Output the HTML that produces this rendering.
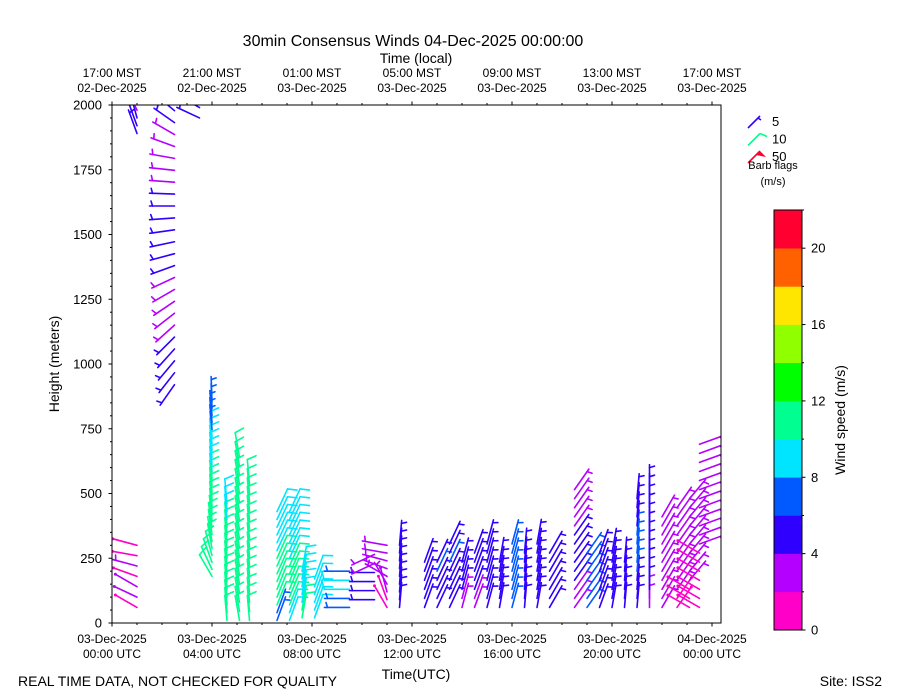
<!DOCTYPE html>
<html><head><meta charset="utf-8">
<style>
body{margin:0;background:#fff;}
svg{display:block;font-family:"Liberation Sans","DejaVu Sans",sans-serif;}
</style></head>
<body>
<svg id="chart" width="900" height="700" viewBox="0 0 900 700">
<defs><clipPath id="plotclip"><rect x="112" y="105" width="609" height="518"/></clipPath></defs>
<rect x="0" y="0" width="900" height="700" fill="#fff"/>
<text x="413" y="46" font-size="16" text-anchor="middle">30min Consensus Winds 04-Dec-2025 00:00:00</text>
<text x="416" y="63" font-size="14" text-anchor="middle">Time (local)</text>
<text x="416" y="679" font-size="14" text-anchor="middle">Time(UTC)</text>
<text transform="translate(59,364) rotate(-90)" font-size="14" text-anchor="middle">Height (meters)</text>
<text x="18" y="686" font-size="14">REAL TIME DATA, NOT CHECKED FOR QUALITY</text>
<text x="882" y="686" font-size="14" text-anchor="end">Site: ISS2</text>
<g id="barbs" clip-path="url(#plotclip)"></g>
<g id="axes"></g>
<g id="legend"></g>
<g id="cbar"></g>
</svg>
<script>
// ---- data ----
const bottomTickTimes = [0, 4, 8, 12, 16, 20, 24];
const bottomTickLabels1 = ["03-Dec-2025","03-Dec-2025","03-Dec-2025","03-Dec-2025","03-Dec-2025","03-Dec-2025","04-Dec-2025"];
const bottomTickLabels2 = ["00:00 UTC","04:00 UTC","08:00 UTC","12:00 UTC","16:00 UTC","20:00 UTC","00:00 UTC"];
const topTickLabels1 = ["17:00 MST","21:00 MST","01:00 MST","05:00 MST","09:00 MST","13:00 MST","17:00 MST"];
const topTickLabels2 = ["02-Dec-2025","02-Dec-2025","03-Dec-2025","03-Dec-2025","03-Dec-2025","03-Dec-2025","03-Dec-2025"];
const heightTicks = [0, 250, 500, 750, 1000, 1250, 1500, 1750, 2000];
const speedBins = ["#ff00c8","#b400ff","#3000ff","#005aff","#00e5ff","#00ff90","#00ff00","#90ff00","#ffe600","#ff6000","#ff0030"];
const cbarTicks = [0, 4, 8, 12, 16, 20];
// profiles: time (h since 03-Dec 00 UTC), first gate height, gate spacing, speeds (m/s), directions (deg)
const profTimes = [1.0, 1.0, 2.5, 3.5, 4.0, 4.6, 5.1, 5.5, 6.6, 7.1, 7.6, 8.1, 9.5, 10.5, 11.0, 11.5,
  12.5, 13.0, 13.5, 14.0, 14.5, 15.0, 15.5, 16.0, 16.5, 17.0, 17.5, 18.5, 19.0, 19.5, 20.0, 20.5, 21.0, 21.5, 22.0, 22.6, 23.1, 23.5];
const profH0 = [60, 1890, 920, 1950, 180, 10, 10, 10, 10, 10, 20, 20, 60, 90, 60, 60,
  60, 60, 60, 60, 60, 60, 60, 60, 60, 60, 60, 60, 60, 60, 60, 60, 60, 60, 60, 60, 60, 60];
const profDh = [40, 30, 46, 40, 27, 30, 35, 35, 30, 30, 30, 30, 35, 35, 30, 30,
  35, 35, 35, 35, 35, 35, 35, 35, 35, 35, 35, 35, 35, 35, 35, 35, 35, 35, 35, 35, 35, 35];
const profSpeeds = [
  [1.5,2,2,1.5,2.5,1.5,1.5],
  [5,5,5,3],
  [5,5,5,5,5,3.5,3.5,3.5,3,3,5,5,5,5,5,5,5,3.5,3.5,3.5,3.5,3,5,5],
  [5,5],
  [10,10,10.5,10.5,11,11,11,10.5,10.5,10.5,10.5,10.5,10.5,10,10,9.5,9,9,9,9,8.5,7,7,7,6.5,6.5],
  [10.5,10.5,10.5,11,11,10.5,10.5,10.5,10.5,10.5,10.5,10.5,10.5,9.5,9.5,9.5],
  [11,11,11,11,11,11,11,11,11,11,11,11,11,11,11,11,11.5,11.5,11],
  [10.5,10.5,10.5,10.5,10.5,10.5,10.5,10.5,10.5,10.5,10.5,11,11,11,10.5,10.5],
  [6,6,10.5,10.5,10.5,10.5,10.5,10.5,10.5,9,9,9,9,9,9],
  [9,9,10.5,10.5,10.5,10.5,10.5,10.5,9,9,9,9,9,9,9],
  [10.5,10.5,9,9,9,9,9],
  [9,9,9,9,9,9],
  [7,7,8,8,7],
  [5,5,5,5,3.5,3.5],
  [1.5,1.5,2,3,3,3.5,3.5,3,3],
  [5,5,5,5,5,5,5,5,5],
  [5,5,5,5,5,5],
  [5,5,5,5,7,5],
  [5,5,5,5,5,7,5,5],
  [3,3,5,5,5,5],
  [3.5,3.5,5,5,5,5,5],
  [5,5,5,5,5,5,5,5],
  [5,5,5,5,5,5],
  [7,7,7,7,7,7,7,7],
  [5,5,5,5,5,5,5],
  [5,5,5,5,5,5,5,5],
  [5,5,5,5,5,5,5],
  [3.5,3.5,3.5,5,5,5,5,5,5,3.5,3.5,3.5,3.5,3.5],
  [7,7,7,7,7,7,7],
  [5,5,5,5,5,5,5],
  [5,5,5,5,5,5,5],
  [5,5,5,5,5,5],
  [5,5,5,5,7,7,7,7,7,5,5,5,5],
  [3.5,3.5,5,5,5,5,5,5,5,5,5,5,5,5],
  [3.5,3.5,3.5,3.5,3.5,3.5,3.5,3.5,3.5,3.5,3.5],
  [1.5,1.5,3.5,3.5,3.5,3.5,3.5,3.5,3.5,3.5,3.5,3.5],
  [1.5,1.5,1.5,3,3,3,3,3,3,3,3,3,3],
  [1.5,1.5,1.5,1.5,1.5,1.5,1.5,3,3,3,3,3,3,3,3,3,3,3,3]
];
const profDirs = [
  [300,295,300,290,285,280,285],
  [340,340,345,335],
  [215,218,220,222,225,228,232,236,240,245,250,255,258,262,266,270,272,274,276,280,290,300,305,310],
  [295,300],
  [330,335,340,345,350,350,352,352,354,355,355,355,355,355,355,355,355,355,355,355,355,355,355,355,358,358],
  [355,355,355,355,355,355,355,355,355,355,355,355,355,355,355,355],
  [350,350,350,350,350,350,350,350,350,350,350,350,350,350,350,350,350,350,350],
  [355,355,355,355,355,355,355,355,355,355,355,355,355,355,355,355],
  [20,20,22,22,22,22,24,24,24,25,25,25,25,25,25],
  [20,20,22,22,22,22,24,24,24,25,25,25,25,25,25],
  [10,10,10,10,10,10,10],
  [20,20,20,20,20,20],
  [270,270,270,270,270],
  [270,270,270,270,245,245],
  [330,340,345,330,300,290,285,280,280],
  [5,5,5,5,5,5,5,5,5],
  [20,20,20,20,20,20],
  [25,25,25,25,25,25],
  [25,25,25,25,25,25,25,25],
  [15,15,15,15,15,15],
  [20,20,20,20,20,20,20],
  [15,15,15,15,15,15,15,15],
  [10,10,10,10,10,10],
  [15,15,15,15,15,15,15,15],
  [5,5,5,5,5,5,5],
  [10,10,10,10,10,10,10,10],
  [30,30,30,30,30,30,30],
  [35,35,35,35,35,35,35,35,35,35,35,35,35,35],
  [35,35,35,35,35,35,35],
  [20,20,20,20,20,20,20],
  [10,10,10,10,10,10,10],
  [5,5,5,5,5,5],
  [5,5,5,5,5,5,5,5,5,5,5,5,5],
  [0,0,0,0,0,0,0,0,0,0,0,0,0,0],
  [30,30,30,30,30,30,30,30,30,30,30],
  [35,35,35,35,35,35,35,35,35,35,35,35],
  [300,300,300,40,40,40,40,40,40,40,40,40,40],
  [300,300,300,300,300,300,300,70,70,70,70,70,70,70,70,70,70,70,70]
];

// ---- scales ----
const X0 = 112, X1 = 721, Y0 = 623, Y1 = 105;
function xS(t){ return X0 + t * 25; }
function yS(h){ return Y0 - h * (Y0 - Y1) / 2000; }
function colorFor(s){ return speedBins[Math.min(speedBins.length - 1, Math.floor(s / 2))]; }
const NS = "http://www.w3.org/2000/svg";
function mk(tag, attrs, parent){ const e = document.createElementNS(NS, tag); for (const k in attrs) e.setAttribute(k, attrs[k]); parent.appendChild(e); return e; }

// ---- barbs ----
const barbG = document.getElementById('barbs');
function drawBarb(px, py, s, dir, parent){
  const L = 25, a = dir * Math.PI / 180;
  const ux = Math.sin(a), uy = -Math.cos(a);
  const pxv = -uy, pyv = ux;
  const col = colorFor(s);
  const g = mk('g', {stroke: col, 'stroke-width': 1.6, fill: 'none', 'stroke-linecap': 'round'}, parent);
  
  
  const tx = px + ux * L, ty = py + uy * L;
  mk('line', {x1: px, y1: py, x2: tx, y2: ty}, g);
  const v = Math.round(s / 5) * 5;
  let full = Math.floor(v / 10), half = (v % 10) === 5 ? 1 : 0;
  let off = 0;
  for (let i = 0; i < full; i++){
    const qx = tx - ux * off, qy = ty - uy * off;
    mk('line', {x1: qx, y1: qy, x2: qx + pxv * 9 + ux * 3, y2: qy + pyv * 9 + uy * 3}, g);
    off += 3.5;
  }
  if (half){
    if (full === 0) off = 3;
    const qx = tx - ux * off, qy = ty - uy * off;
    mk('line', {x1: qx, y1: qy, x2: qx + pxv * 5 + ux * 1.5, y2: qy + pyv * 5 + uy * 1.5}, g);
  }
  if (v === 0){
    mk('circle', {cx: tx, cy: ty, r: 1.5, fill: col, stroke: 'none'}, g);
  }
}
for (let p = 0; p < profTimes.length; p++){
  const sp = profSpeeds[p], dr = profDirs[p];
  for (let i = 0; i < sp.length; i++){
    const h = profH0[p] + i * profDh[p];
    drawBarb(xS(profTimes[p]), yS(h), sp[i], dr[i], barbG);
  }
}

// ---- axes ----
const ax = document.getElementById('axes');
const frame = mk('rect', {x: X0, y: Y1, width: X1 - X0, height: Y0 - Y1, fill: 'none', stroke: '#000', 'stroke-width': 1}, ax);


for (let h = 0; h <= 24; h++){
  const x = xS(h);
  if (x > X1) break;
  const major = h % 4 === 0;
  const len = major ? 3.5 : 2;
  mk('line', {x1: x, y1: Y0, x2: x, y2: Y0 + len, stroke: '#000', 'stroke-width': 1}, ax);
  mk('line', {x1: x, y1: Y1, x2: x, y2: Y1 - len, stroke: '#000', 'stroke-width': 1}, ax);
}
for (let i = 0; i < bottomTickTimes.length; i++){
  const x = xS(bottomTickTimes[i]);
  let t = mk('text', {x: x, y: 643, 'font-size': 12, 'text-anchor': 'middle'}, ax);
  t.textContent = bottomTickLabels1[i];
  
  
  t = mk('text', {x: x, y: 658, 'font-size': 12, 'text-anchor': 'middle'}, ax);
  t.textContent = bottomTickLabels2[i];
  
  
  t = mk('text', {x: x, y: 77, 'font-size': 12, 'text-anchor': 'middle'}, ax);
  t.textContent = topTickLabels1[i];
  
  
  t = mk('text', {x: x, y: 92, 'font-size': 12, 'text-anchor': 'middle'}, ax);
  t.textContent = topTickLabels2[i];
  
  
}
for (let h = 0; h <= 2000; h += 50){
  const y = yS(h);
  const major = h % 250 === 0;
  mk('line', {x1: X0, y1: y, x2: X0 - (major ? 3.5 : 2), y2: y, stroke: '#000', 'stroke-width': 1}, ax);
}
for (const h of heightTicks){
  const t = mk('text', {x: 102, y: yS(h) + 4.5, 'font-size': 13, 'text-anchor': 'end'}, ax);
  t.textContent = String(h);
  
  
}

// ---- legend ----
const lg = document.getElementById('legend');
const legendVals = ["5", "10", "50"];
const legendCols = ["#3000ff", "#00ff90", "#ff0030"];
for (let i = 0; i < 3; i++){
  const y = 121 + i * 17.5;
  const g = mk('g', {stroke: legendCols[i], 'stroke-width': 1.6, fill: legendCols[i]}, lg);
  
  
  mk('line', {x1: 748, y1: y + 7, x2: 760, y2: y - 5}, g);
  if (i === 0) mk('line', {x1: 758, y1: y - 3, x2: 761, y2: y - 1}, g);
  if (i === 1) mk('line', {x1: 760, y1: y - 5, x2: 767, y2: y - 2}, g);
  if (i === 2) mk('polygon', {points: `${760},${y-5} ${766},${y+1} ${756},${y-1}`, stroke: 'none'}, g);
  const t = mk('text', {x: 772, y: y + 5, 'font-size': 13, fill: '#000', stroke: 'none'}, lg);
  t.textContent = legendVals[i];
  
  
}
let lt = mk('text', {x: 773, y: 169, 'font-size': 11, 'text-anchor': 'middle'}, lg);
lt.textContent = 'Barb flags';


lt = mk('text', {x: 773, y: 185, 'font-size': 11, 'text-anchor': 'middle'}, lg);
lt.textContent = '(m/s)';



// ---- colorbar ----
const cb = document.getElementById('cbar');
const CB_X = 774, CB_W = 28, CB_TOP = 210, CB_BOT = 630, CB_MAX = 22;
function cbY(v){ return CB_BOT - v * (CB_BOT - CB_TOP) / CB_MAX; }
for (let i = 0; i < speedBins.length; i++){
  const r = mk('rect', {x: CB_X, y: cbY((i + 1) * 2), width: CB_W, height: cbY(i * 2) - cbY((i + 1) * 2) + 0.3, fill: speedBins[i]}, cb);
  
  
}
mk('rect', {x: CB_X, y: CB_TOP, width: CB_W, height: CB_BOT - CB_TOP, fill: 'none', stroke: '#000', 'stroke-width': 1}, cb);
for (let v = 0; v <= 22; v += 2){
  const major = v % 4 === 0;
  mk('line', {x1: CB_X + CB_W, y1: cbY(v), x2: CB_X + CB_W + (major ? 3.5 : 2), y2: cbY(v), stroke: '#000', 'stroke-width': 1}, cb);
}
for (const v of cbarTicks){
  const t = mk('text', {x: 811, y: cbY(v) + 4.5, 'font-size': 13}, cb);
  t.textContent = String(v);
  
  
}
const cbt = mk('text', {transform: 'translate(845,420) rotate(-90)', 'font-size': 14, 'text-anchor': 'middle'}, cb);
cbt.textContent = 'Wind speed (m/s)';


</script>
</body></html>
